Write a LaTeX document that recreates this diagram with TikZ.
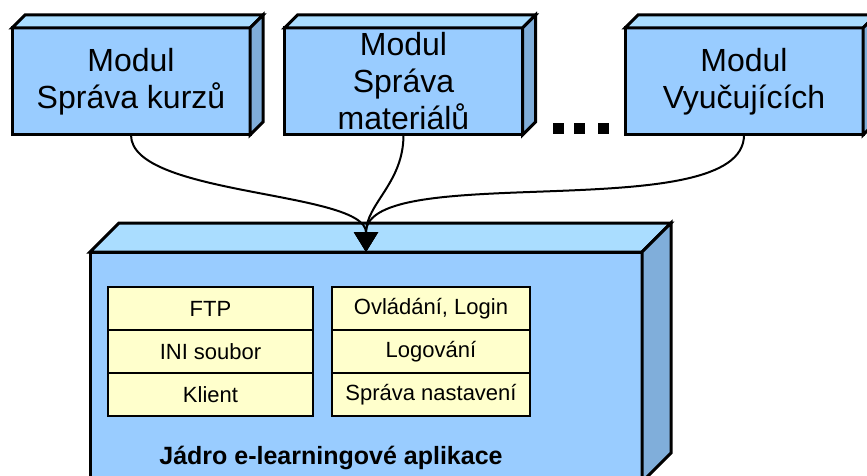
\documentclass[tikz,border=0pt]{standalone}
\usepackage{fontspec}
\setmainfont{Liberation Sans}
\usetikzlibrary{positioning,arrows.meta}
\definecolor{frontblue}{HTML}{99CCFF}
\definecolor{topblue}{HTML}{AADDFF}
\definecolor{sideblue}{HTML}{80AEDA}
\definecolor{cellyellow}{HTML}{FFFFCC}
\tikzset{
  modul/.style={draw, line width=3pt, fill=frontblue, minimum width=238pt,
    minimum height=107pt, inner sep=0pt, outer sep=0pt, align=center,
    font=\fontsize{32}{37}\selectfont},
  cell/.style={draw, line width=2pt, fill=cellyellow, minimum height=43pt,
    inner sep=0pt, outer sep=0pt, font=\fontsize{22}{26}\selectfont},
  link/.style={line width=2pt, -{Triangle[width=24pt,length=20pt]}},
}
\begin{document}
\begin{tikzpicture}[x=1pt,y=-1pt]
  \clip (0,0) rectangle (867,476);
  \fill[white] (0,0) rectangle (867,476);
  % modules
  \node[modul] (m1) at (131,81.5) {Modul\\Správa kurzů};
  \node[modul] (m2) at (403.5,81.5) {Modul\\Správa\\materiálů};
  \node[modul] (m3) at (744,81.5) {Modul\\Vyučujících};
  % core
  \node[draw, line width=3pt, fill=frontblue, minimum width=552pt,
    minimum height=230pt, outer sep=0pt] (core) at (366,367) {};
  \foreach \n/\d in {m1/13,m2/13,m3/13,core/29} {
    \draw[line width=3pt, fill=topblue] (\n.north west) -- ([shift={(\d,-\d)}]\n.north west)
      -- ([shift={(\d,-\d)}]\n.north east) -- (\n.north east) -- cycle;
    \draw[line width=3pt, fill=sideblue] (\n.north east) -- ([shift={(\d,-\d)}]\n.north east)
      -- ([shift={(\d,-\d)}]\n.south east) -- (\n.south east) -- cycle;
  }
  \foreach \x in {558,579,603}
    \fill (\x-5.5,123) rectangle ++(11,11);
  % inner parts
  \node[cell, minimum width=205pt] (ftp) at (210.5,308.5) {FTP};
  \node[cell, minimum width=205pt, below=0pt of ftp] (ini) {INI soubor};
  \node[cell, minimum width=205pt, below=0pt of ini] (klient) {Klient};
  \node[cell, minimum width=198pt] (login) at (431,308.5) {Ovládání, Login};
  \node[cell, minimum width=198pt, below=0pt of login] (logovani) {Logování};
  \node[cell, minimum width=198pt, below=0pt of logovani] (nastaveni) {Správa nastavení};
  \node[font=\bfseries\fontsize{25}{29}\selectfont] (jadro) at (331,458)
    {Jádro e-learningové aplikace};
  % links
  \draw[link] (m1.south) to[out=-90,in=90,looseness=0.6] (core.north);
  \draw[link] (m2.south) to[out=-90,in=90] (core.north);
  \draw[link] (m3.south) to[out=-90,in=90,looseness=0.6] (core.north);
\end{tikzpicture}
\end{document}
